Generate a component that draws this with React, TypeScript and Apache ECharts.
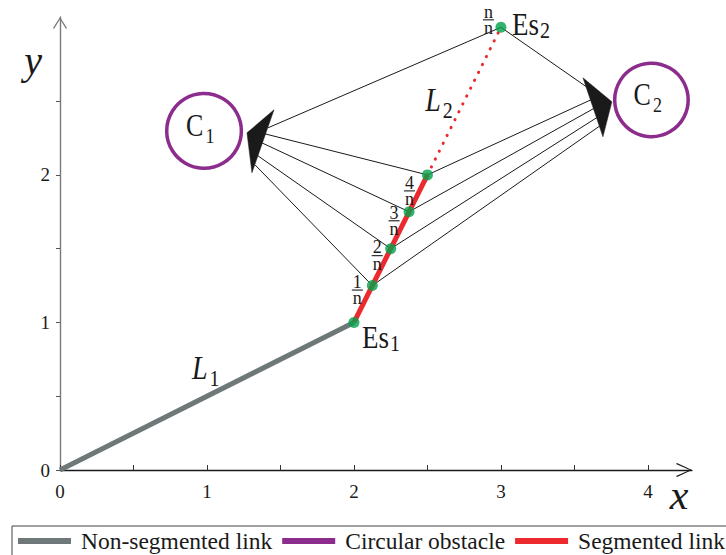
import { useEffect, useRef } from 'react';
import * as echarts from 'echarts';

// ---------- data ----------
const BASE_LINK: number[][] = [[0, 0], [2, 1]];
const SEGMENTED_LINK: number[][] = [[2, 1], [2.125, 1.25], [2.25, 1.5], [2.375, 1.75], [2.5, 2]];
const UNSEGMENTED_REST: number[][] = [[2.5, 2], [3, 3]];
const JOINTS: number[][] = [[2, 1], [2.125, 1.25], [2.25, 1.5], [2.375, 1.75], [2.5, 2], [3, 3]];
const JOINT_FRACTIONS: string[] = ['', '1', '2', '3', '4', 'n'];
const END_EFFECTORS: number[][] = [[2, 1], [3, 3]];
const END_EFFECTOR_NAMES: string[] = ['1', '2'];
const LINK_NAMES: string[] = ['1', '2'];
const FAN_SOURCES: number[][] = [[3, 3], [2.5, 2], [2.375, 1.75], [2.25, 1.5], [2.125, 1.25]];
const FAN_ENDS_C1: number[][] = [[1.415, 2.319], [1.395, 2.278], [1.374, 2.217], [1.347, 2.129], [1.327, 2.068]];
const FAN_ENDS_C2: number[][] = [[3.612, 2.576], [3.626, 2.515], [3.639, 2.454], [3.66, 2.393], [3.673, 2.332]];
const ARROW_C1: number[][] = [[1.456, 2.441], [1.272, 2.285], [1.306, 2.014]];
const ARROW_C2: number[][] = [[3.558, 2.658], [3.755, 2.495], [3.694, 2.258]];
const OBSTACLE_CENTERS: number[][] = [[0.98, 2.298], [4.024, 2.508]];
const OBSTACLE_RADII: number[] = [0.254, 0.25];
const OBSTACLE_NAMES: string[] = ['1', '2'];
const X_TICKS: number[] = [0, 0.5, 1, 1.5, 2, 2.5, 3, 3.5, 4];
const X_LABELS: number[] = [0, 1, 2, 3, 4];
const Y_TICKS: number[] = [0, 0.5, 1, 1.5, 2, 2.5];
const Y_LABELS: number[] = [0, 1, 2];
const X_MAX = 4.3;
const Y_MAX = 3.07;
const LEGEND_NAMES = ['Non-segmented link', 'Circular obstacle', 'Segmented link'];

// ---------- styles ----------
const SERIF = '"Liberation Serif", "Times New Roman", serif';
const GRAY = '#6e7879';
const RED = '#ec2a2e';
const PURPLE = '#8c2c8c';
const GREEN = '#03a14c';
const INK = '#1a1a1a';
const STRETCH = 1.18;

// label placement (pixel offsets from anchor)
const FRACTION_OFFSETS: (number[] | null)[] = [null, [-15, 4.5], [-13.5, 7], [-15, 9], [-18, 16], [-12.5, -7.5]];
const ES_OFFSETS: number[][] = [[8, 14.5], [11, -3.5]];
const LINK_LABEL_OFFSETS: number[][] = [[-15, -28], [-39, -1]];

function txt(x: number, y: number, text: string, fontSize: number, extra: any = {}, scaleY = 1) {
  return {
    type: 'text',
    x,
    y,
    scaleY,
    style: {
      text,
      fontSize,
      fontFamily: SERIF,
      fill: INK,
      align: 'left',
      verticalAlign: 'middle',
      ...extra,
    },
  };
}

export default function App() {
  const ref = useRef<HTMLDivElement>(null);

  useEffect(() => {
    if (!ref.current) return;
    const chart = echarts.init(ref.current, null, { renderer: 'svg' });

    const fanData = [
      ...FAN_SOURCES.map((s, i) => [s[0], s[1], FAN_ENDS_C1[i][0], FAN_ENDS_C1[i][1]]),
      ...FAN_SOURCES.map((s, i) => [s[0], s[1], FAN_ENDS_C2[i][0], FAN_ENDS_C2[i][1]]),
    ];
    const arrowData = [ARROW_C1, ARROW_C2].map((a) => a.flat());
    const obstacleData = OBSTACLE_CENTERS.map((c, i) => [c[0], c[1], OBSTACLE_RADII[i]]);
    const fractionData = JOINTS.map((p, i) => [p[0], p[1], i]).filter((d) => JOINT_FRACTIONS[d[2]] !== '');
    const linkLabelData = [BASE_LINK, UNSEGMENTED_REST].map((l) => [(l[0][0] + l[1][0]) / 2, (l[0][1] + l[1][1]) / 2]);

    const option: any = {
      animation: false,
      backgroundColor: '#ffffff',
      grid: { left: 60, right: 34, top: 17, bottom: 85, outerBoundsMode: 'none' },
      legend: {
        data: LEGEND_NAMES,
        left: 12,
        top: 526,
        width: 780,
        orient: 'horizontal',
        icon: 'path://M0,0H53V6H0Z M58,3H58.01',
        itemWidth: 58,
        itemHeight: 6,
        itemGap: 10,
        padding: [3, 6, 8, 6],
        borderColor: '#444',
        borderWidth: 1,
        selectedMode: false,
        textStyle: { fontFamily: SERIF, fontSize: 23.5, color: INK },
      },
      xAxis: {
        type: 'value',
        min: 0,
        max: X_MAX,
        name: 'x',
        nameLocation: 'end',
        nameGap: -13,
        nameTextStyle: {
          fontFamily: SERIF,
          fontStyle: 'italic',
          fontSize: 42,
          color: INK,
          align: 'center',
          verticalAlign: 'top',
          padding: [4, 0, 0, 0],
        },
        axisLine: {
          show: true,
          onZero: false,
          lineStyle: { color: INK, width: 1.3 },
          symbol: ['none', 'path://M7,0 L14,15 L13,16 L7,2.3 L1,16 L0,15 Z'],
          symbolSize: [14, 16],
          symbolOffset: [0, -8],
        },
        axisTick: { show: true, inside: true, length: 5, customValues: X_TICKS, lineStyle: { color: '#333', width: 1 } },
        axisLabel: {
          customValues: X_LABELS,
          margin: 12,
          fontFamily: SERIF,
          fontSize: 19,
          color: INK,
          formatter: (v: number) => String(v),
        },
        splitLine: { show: false },
      },
      yAxis: {
        type: 'value',
        min: 0,
        max: Y_MAX,
        name: 'y',
        nameLocation: 'end',
        nameGap: -43,
        nameTextStyle: {
          fontFamily: SERIF,
          fontStyle: 'italic',
          fontSize: 40,
          color: INK,
          align: 'right',
          verticalAlign: 'middle',
          padding: [0, 18, 0, 0],
        },
        axisLine: {
          show: true,
          onZero: false,
          lineStyle: { color: '#7a7a7a', width: 1.4 },
          symbol: ['none', 'path://M7,0 L14,11 L13,12 L7,2.2 L1,12 L0,11 Z'],
          symbolSize: [14, 12],
          symbolOffset: [0, -6],
        },
        axisTick: { show: true, inside: false, length: 4, customValues: Y_TICKS, lineStyle: { color: '#555', width: 1 } },
        axisLabel: {
          customValues: Y_LABELS,
          margin: 10,
          fontFamily: SERIF,
          fontSize: 19,
          color: INK,
          formatter: (v: number) => String(v),
        },
        splitLine: { show: false },
      },
      series: [
        {
          name: 'Distance rays',
          type: 'custom',
          z: 1,
          clip: false,
          data: fanData,
          renderItem: (_p: any, api: any) => {
            const a = api.coord([api.value(0), api.value(1)]);
            const b = api.coord([api.value(2), api.value(3)]);
            return {
              type: 'line',
              shape: { x1: a[0], y1: a[1], x2: b[0], y2: b[1] },
              style: { stroke: INK, lineWidth: 1 },
            };
          },
        },
        {
          name: 'Arrow heads',
          type: 'custom',
          z: 3,
          clip: false,
          data: arrowData,
          renderItem: (_p: any, api: any) => {
            const pts = [0, 1, 2].map((k) => api.coord([api.value(2 * k), api.value(2 * k + 1)]));
            return { type: 'polygon', shape: { points: pts }, style: { fill: INK, stroke: INK, lineWidth: 0.5 } };
          },
        },
        {
          name: 'Non-segmented link',
          type: 'line',
          z: 2,
          data: BASE_LINK,
          showSymbol: false,
          symbol: 'none',
          itemStyle: { color: GRAY },
          lineStyle: { color: GRAY, width: 5 },
        },
        {
          name: 'Segmented link',
          type: 'line',
          z: 2,
          data: SEGMENTED_LINK,
          showSymbol: false,
          symbol: 'none',
          itemStyle: { color: RED },
          lineStyle: { color: RED, width: 5 },
        },
        {
          name: 'Unsegmented remainder',
          type: 'line',
          z: 2,
          data: UNSEGMENTED_REST,
          showSymbol: false,
          symbol: 'none',
          itemStyle: { color: RED },
          lineStyle: { color: RED, width: 3, type: [0.3, 8.5], cap: 'round' },
        },
        {
          name: 'Circular obstacle',
          type: 'custom',
          z: 3,
          clip: false,
          itemStyle: { color: PURPLE },
          data: obstacleData,
          renderItem: (p: any, api: any) => {
            const c = api.coord([api.value(0), api.value(1)]);
            const r = api.size([api.value(2), 0])[0];
            const nm = OBSTACLE_NAMES[p.dataIndex];
            return {
              type: 'group',
              children: [
                { type: 'circle', shape: { cx: c[0], cy: c[1], r }, style: { fill: 'none', stroke: PURPLE, lineWidth: 3.5 } },
                txt(c[0] - 18, c[1] - 5, 'C', 26, {}, STRETCH),
                txt(c[0] + 1.5, c[1] + 5, nm, 18, {}, STRETCH),
              ],
            };
          },
        },
        {
          name: 'Joints',
          type: 'scatter',
          z: 5,
          data: JOINTS,
          symbol: 'circle',
          symbolSize: 11,
          itemStyle: { color: GREEN },
        },
        {
          name: 'Joint fractions',
          type: 'custom',
          z: 6,
          clip: false,
          data: fractionData,
          renderItem: (_p: any, api: any) => {
            const idx = api.value(2);
            const c = api.coord([api.value(0), api.value(1)]);
            const off = FRACTION_OFFSETS[idx] || [-15, 8];
            const bx = c[0] + off[0];
            const by = c[1] + off[1];
            return {
              type: 'group',
              children: [
                txt(bx, by - 9, JOINT_FRACTIONS[idx], 18, { align: 'center' }, 1.08),
                { type: 'line', shape: { x1: bx - 5.5, y1: by, x2: bx + 5.5, y2: by }, style: { stroke: INK, lineWidth: 1.1 } },
                txt(bx, by + 7.5, 'n', 18, { align: 'center' }, 1.08),
              ],
            };
          },
        },
        {
          name: 'End effectors',
          type: 'custom',
          z: 6,
          clip: false,
          data: END_EFFECTORS,
          renderItem: (p: any, api: any) => {
            const c = api.coord([api.value(0), api.value(1)]);
            const off = ES_OFFSETS[p.dataIndex];
            const x = c[0] + off[0];
            const y = c[1] + off[1];
            return {
              type: 'group',
              children: [
                txt(x, y, 'Es', 27, {}, STRETCH),
                txt(x + 28, y + 6.5, END_EFFECTOR_NAMES[p.dataIndex], 20, {}, STRETCH),
              ],
            };
          },
        },
        {
          name: 'Link names',
          type: 'custom',
          z: 6,
          clip: false,
          data: linkLabelData,
          renderItem: (p: any, api: any) => {
            const c = api.coord([api.value(0), api.value(1)]);
            const off = LINK_LABEL_OFFSETS[p.dataIndex];
            const x = c[0] + off[0];
            const y = c[1] + off[1];
            return {
              type: 'group',
              children: [
                txt(x, y, 'L', 28, { fontStyle: 'italic' }, STRETCH),
                txt(x + 17.5, y + 10, LINK_NAMES[p.dataIndex], 20, {}, STRETCH),
              ],
            };
          },
        },
      ],
    };

    chart.setOption(option);
    return () => chart.dispose();
  }, []);

  return (
    <div
      ref={ref}
      style={{ position: 'absolute', left: 0, top: 0, width: 726, height: 555, background: '#fff' }}
    />
  );
}
